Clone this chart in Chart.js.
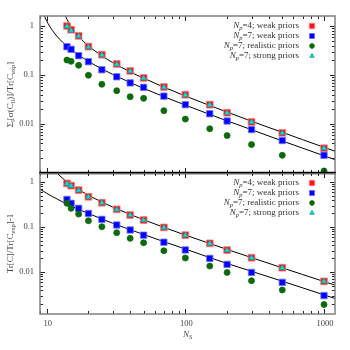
<!DOCTYPE html>
<html>
<head>
<meta charset="utf-8">
<script src="https://cdn.jsdelivr.net/npm/chart.js@4.4.0/dist/chart.umd.min.js"></script>
<style>
  html, body { margin: 0; padding: 0; background: #fff; }
  #wrap { position: relative; width: 350px; height: 350px; }
  .box { position: absolute; left: 0; width: 350px; }
  canvas { display: block; }
  #topBox { top: 0; height: 175px; }
  #botBox { top: 173px; height: 177px; }
</style>
</head>
<body>
<div id="wrap">
  <div class="box" id="topBox"><canvas id="topChart" width="350" height="175"></canvas></div>
  <div class="box" id="botBox"><canvas id="botChart" width="350" height="177"></canvas></div>
</div>
<script>
// N_S values of the measured points
const nsValues = [14, 15, 17, 20, 25, 32, 40, 50, 70, 100, 150, 200, 300, 500, 1000];

// Top panel: sum of sigma(C_ll) / Tr[C_exp]
const topWeak4 = [1.0, 0.84, 0.63, 0.38, 0.26, 0.168, 0.121, 0.087, 0.057, 0.0396, 0.0248, 0.017, 0.011, 0.0066, 0.0032];
const topWeak7 = [0.378, 0.334, 0.248, 0.187, 0.128, 0.092, 0.069, 0.056, 0.037, 0.0248, 0.0162, 0.0115, 0.0077, 0.0046, 0.0023];
const topRealistic7 = [0.202, 0.19, 0.158, 0.0986, 0.0646, 0.0478, 0.036, 0.0334, 0.0187, 0.0126, 0.008, 0.0058, 0.0038, 0.0023, 0.0011];
const topStrong7 = [0.98, 0.81, 0.62, 0.37, 0.255, 0.165, 0.12, 0.086, 0.056, 0.039, 0.0245, 0.0168, 0.0109, 0.0065, 0.0032];

// Bottom panel: Tr[C]/Tr[C_exp] - 1
const botWeak4 = [0.93, 0.83, 0.66, 0.47, 0.347, 0.247, 0.185, 0.143, 0.098, 0.066, 0.0434, 0.0308, 0.0208, 0.0125, 0.0062];
const botWeak7 = [0.41, 0.336, 0.26, 0.2, 0.148, 0.111, 0.086, 0.066, 0.046, 0.031, 0.0201, 0.0148, 0.0098, 0.0059, 0.003];
const botRealistic7 = [0.336, 0.26, 0.194, 0.138, 0.1016, 0.0748, 0.056, 0.0448, 0.0297, 0.0205, 0.0136, 0.0098, 0.0064, 0.004, 0.0019];
const botStrong7 = [0.92, 0.82, 0.65, 0.465, 0.345, 0.245, 0.184, 0.142, 0.097, 0.0655, 0.043, 0.0305, 0.0206, 0.0124, 0.0062];

// fit curves
const topFitUpperX = [12.5, 13, 13.5, 14, 15, 16, 17, 18.5, 20, 25, 30, 40, 50, 70, 100, 150, 200, 300, 500, 700, 1000, 1200];
const topFitUpperY = [3.67, 2.36, 1.74, 1.375, 0.97, 0.75, 0.61, 0.478, 0.393, 0.246, 0.179, 0.116, 0.086, 0.0565, 0.0373, 0.0238, 0.0175, 0.0114, 0.00676, 0.0048, 0.00334, 0.00278];
const topFitLowerX = [8.9, 9.5, 10, 11, 12, 13, 14, 15, 17, 20, 25, 30, 40, 50, 70, 100, 150, 200, 300, 500, 700, 1000, 1200];
const topFitLowerY = [3.43, 1.78, 1.27, 0.811, 0.595, 0.469, 0.388, 0.33, 0.255, 0.19, 0.133, 0.1025, 0.0702, 0.0534, 0.0361, 0.0243, 0.0157, 0.0116, 0.00766, 0.00451, 0.00322, 0.00225, 0.00187];
const botFitUpperX = [10, 11, 12, 13, 14, 15, 17, 20, 25, 30, 40, 50, 70, 100, 150, 200, 300, 500, 700, 1000, 1200];
const botFitUpperY = [3.05, 2.03, 1.525, 1.22, 1.017, 0.871, 0.678, 0.508, 0.359, 0.277, 0.191, 0.145, 0.0984, 0.0663, 0.043, 0.0318, 0.0209, 0.0124, 0.00882, 0.00615, 0.00512];
const botFitLowerX = [8.9, 10, 11, 12, 13, 14, 15, 17, 20, 25, 30, 40, 50, 70, 100, 150, 200, 300, 500, 700, 1000, 1200];
const botFitLowerY = [0.7, 0.561, 0.475, 0.412, 0.363, 0.325, 0.294, 0.247, 0.2, 0.151, 0.121, 0.0873, 0.0683, 0.0473, 0.0325, 0.0209, 0.0155, 0.0104, 0.00626, 0.00446, 0.00311, 0.00259];

// tick labels
const xTickValues = [10, 100, 1000];
const xTickLabels = ['10', '100', '1000'];
const yTickValues = [1, 0.1, 0.01];
const yTickLabels = ['1', '0.1', '0.01'];

// legend
const legendNp = ['4', '7', '7', '7'];
const legendText = ['weak priors', 'weak priors', 'realistic priors', 'strong priors'];

const FONT = '"Liberation Serif", "Times New Roman", serif';
const xMin = 8.95, xMax = 1200;

const styles = [
  { pointStyle: 'rect', radius: 4.8, bg: '#ff1010', border: '#ff8080' },
  { pointStyle: 'rect', radius: 4.5, bg: '#0000ff', border: '#7070ff' },
  { pointStyle: 'circle', radius: 3, bg: '#0b6b0b', border: '#0b6b0b' },
  { pointStyle: 'triangle', radius: 3.3, bg: '#00e0e0', border: '#209a9a' }
];

function pts(xs, ys) {
  return xs.map((x, i) => ({ x: x, y: ys[i] }));
}

function pointSet(ys, s, order) {
  return {
    data: pts(nsValues, ys),
    showLine: false,
    order: order,
    pointStyle: s.pointStyle,
    pointRadius: s.radius,
    pointBackgroundColor: s.bg,
    pointBorderColor: s.border,
    pointBorderWidth: 0.8
  };
}

function fitSet(xs, ys) {
  return {
    data: pts(xs, ys),
    showLine: true,
    order: 10,
    borderColor: '#000',
    borderWidth: 1,
    pointRadius: 0,
    cubicInterpolationMode: 'monotone'
  };
}

// text with italic / subscript pieces: [text, italic, sub]
function richWidth(ctx, parts, size) {
  let w = 0;
  parts.forEach(p => {
    ctx.font = (p[1] ? 'italic ' : '') + (p[2] ? size * 0.72 : size) + 'px ' + FONT;
    w += ctx.measureText(p[0]).width;
  });
  return w;
}
function drawRich(ctx, parts, x, y, align, size) {
  const w = richWidth(ctx, parts, size);
  let cx = align === 'right' ? x - w : align === 'center' ? x - w / 2 : x;
  ctx.textAlign = 'left';
  ctx.textBaseline = 'middle';
  parts.forEach(p => {
    ctx.font = (p[1] ? 'italic ' : '') + (p[2] ? size * 0.72 : size) + 'px ' + FONT;
    ctx.fillText(p[0], cx, y + (p[2] ? size * 0.3 : 0));
    cx += ctx.measureText(p[0]).width;
  });
}

function framePlugin(opts) {
  return {
    id: 'frame',
    afterDraw(chart) {
      const ctx = chart.ctx;
      const a = chart.chartArea;
      const xs = chart.scales.x, ys = chart.scales.y;
      ctx.save();
      // minor/major ticks on all four sides
      ctx.strokeStyle = '#222';
      ctx.lineWidth = 1;
      ctx.beginPath();
      for (let d = 0; d <= 3; d++) {
        for (let m = 1; m <= 9; m++) {
          const v = m * Math.pow(10, d);
          if (v < xMin || v > xMax) continue;
          const px = Math.round(xs.getPixelForValue(v)) + 0.5;
          const len = m === 1 ? 5 : 3;
          ctx.moveTo(px, a.top); ctx.lineTo(px, a.top + len);
          ctx.moveTo(px, a.bottom); ctx.lineTo(px, a.bottom - len);
        }
      }
      for (let d = -3; d <= 0; d++) {
        for (let m = 1; m <= 9; m++) {
          const v = m * Math.pow(10, d);
          if (v < ys.min || v > ys.max) continue;
          const py = Math.round(ys.getPixelForValue(v)) + 0.5;
          const len = m === 1 ? 5 : 3;
          ctx.moveTo(a.left, py); ctx.lineTo(a.left + len, py);
          ctx.moveTo(a.right, py); ctx.lineTo(a.right - len, py);
        }
      }
      ctx.stroke();
      // frame
      ctx.strokeStyle = '#808080';
      ctx.lineWidth = 1.5;
      ctx.strokeRect(a.left, a.top, a.right - a.left, a.bottom - a.top);
      if (opts.separator) {
        ctx.strokeStyle = '#000';
        ctx.lineWidth = 2.6;
        ctx.beginPath();
        ctx.moveTo(a.left - 0.8, a.bottom);
        ctx.lineTo(a.right + 0.8, a.bottom);
        ctx.stroke();
      }
      // y tick labels
      ctx.fillStyle = '#444';
      ctx.font = '8.5px ' + FONT;
      ctx.textAlign = 'right';
      ctx.textBaseline = 'middle';
      yTickValues.forEach((v, i) => {
        ctx.fillText(yTickLabels[i], a.left - 6, ys.getPixelForValue(v));
      });
      // y title
      ctx.save();
      ctx.translate(11, (a.top + a.bottom) / 2);
      ctx.rotate(-Math.PI / 2);
      drawRich(ctx, opts.yTitle, 0, 0, 'center', 9);
      ctx.restore();
      // x tick labels + title
      if (opts.xLabels) {
        ctx.font = '8.5px ' + FONT;
        ctx.textAlign = 'center';
        ctx.textBaseline = 'middle';
        xTickValues.forEach((v, i) => {
          ctx.fillText(xTickLabels[i], xs.getPixelForValue(v) + 1, a.bottom + 10);
        });
        drawRich(ctx, [['N', true, false], ['S', true, true]], (a.left + a.right) / 2 + 0, a.bottom + 21, 'center', 9);
      }
      // legend
      const lx = a.right - 36, mx = a.right - 23;
      legendNp.forEach((np, i) => {
        const ly = a.top + 10 + i * 10;
        ctx.fillStyle = '#333';
        drawRich(ctx, [['N', true, false], ['p', true, true], ['=' + np + '; ' + legendText[i], false, false]], lx, ly, 'right', 9);
        const s = styles[i];
        ctx.fillStyle = s.bg;
        ctx.strokeStyle = s.border;
        ctx.lineWidth = 0.8;
        Chart.helpers.drawPoint(ctx, { pointStyle: s.pointStyle, radius: s.radius * 0.8, rotation: 0, borderWidth: 0.8 }, mx, ly);
      });
      ctx.restore();
    }
  };
}

function makeChart(id, sets, yMin, yMax, padding, plugOpts) {
  return new Chart(document.getElementById(id), {
    type: 'scatter',
    data: { datasets: sets },
    options: {
      responsive: false,
      animation: false,
      devicePixelRatio: 1,
      layout: { padding: padding, autoPadding: false },
      plugins: { legend: { display: false }, tooltip: { enabled: false } },
      scales: {
        x: { type: 'logarithmic', min: xMin, max: xMax, display: false },
        y: { type: 'logarithmic', min: yMin, max: yMax, display: false }
      }
    },
    plugins: [framePlugin(plugOpts)]
  });
}

makeChart('topChart', [
  fitSet(topFitUpperX, topFitUpperY),
  fitSet(topFitLowerX, topFitLowerY),
  pointSet(topWeak4, styles[0], 4),
  pointSet(topWeak7, styles[1], 3),
  pointSet(topRealistic7, styles[2], 2),
  pointSet(topStrong7, styles[3], 1)
], 0.001, 1.6, { left: 40, right: 15, top: 16, bottom: 2 }, {
  separator: true,
  xLabels: false,
  yTitle: [['Σ', false, false], ['l', false, true], ['[σ(C', false, false], ['ll', false, true], [')]/Tr[C', false, false], ['exp', false, true], [']', false, false]]
});

makeChart('botChart', [
  fitSet(botFitUpperX, botFitUpperY),
  fitSet(botFitLowerX, botFitLowerY),
  pointSet(botWeak4, styles[0], 4),
  pointSet(botWeak7, styles[1], 3),
  pointSet(botRealistic7, styles[2], 2),
  pointSet(botStrong7, styles[3], 1)
], 0.00117, 1.585, { left: 40, right: 15, top: 0, bottom: 36 }, {
  separator: false,
  xLabels: true,
  yTitle: [['Tr[C]/Tr[C', false, false], ['exp', false, true], [']-1', false, false]]
});
</script>
</body>
</html>
